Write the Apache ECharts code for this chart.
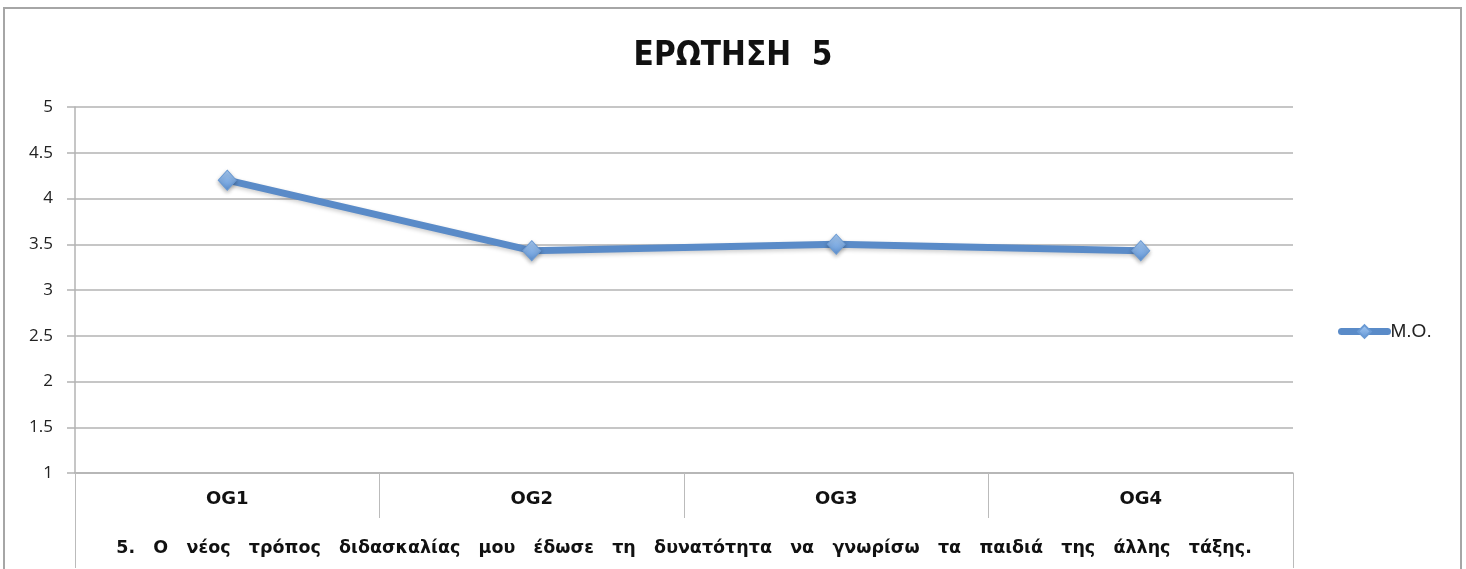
<!DOCTYPE html>
<html>
<head>
<meta charset="utf-8">
<script src="https://cdn.jsdelivr.net/npm/echarts@6/dist/echarts.min.js"></script>
<style>
    html, body { margin: 0; padding: 0; background: #fff; }
    #chart { width: 1466px; height: 569px; }
    #frame {
        position: absolute; left: 3px; top: 7px;
        width: 1455px; height: 600px;
        border: 2px solid #a6a6a6; pointer-events: none;
    }
</style>
</head>
<body>
<div id="chart"></div>
<div id="frame"></div>
<script>
    var titleText = 'ΕΡΩΤΗΣΗ  5';
    var categories = ['OG1', 'OG2', 'OG3', 'OG4'];
    var groupLabel = ['5. Ο νέος τρόπος διδασκαλίας μου έδωσε τη δυνατότητα να γνωρίσω τα παιδιά της άλλης τάξης.'];
    var seriesName = 'M.O.';
    var values = [4.2, 3.43, 3.5, 3.43];
    var yMin = 1, yMax = 5, yStep = 0.5;

    var gridColor = '#b3b3b3';
    var lineColor = '#5a8bc8';

    var myChart = echarts.init(document.getElementById('chart'));
    var option = {
        animation: false,
        title: {
            text: titleText,
            left: 'center',
            top: 35,
            textStyle: {
                fontFamily: '"DejaVu Sans Condensed", "DejaVu Sans", sans-serif',
                fontWeight: 'bold',
                fontSize: 33,
                color: '#111'
            }
        },
        legend: {
            data: [seriesName],
            left: 1333,
            top: 317,
            itemWidth: 46,
            itemHeight: 16,
            itemGap: 2,
            lineStyle: { width: 7, cap: 'round' },
            textStyle: {
                fontFamily: '"Liberation Sans", Arial, sans-serif',
                fontSize: 19,
                color: '#222',
                padding: [0, 0, 0, -2]
            }
        },
        grid: { left: 75, right: 173, top: 107, bottom: 96 },
        xAxis: [{
            type: 'category',
            data: categories,
            boundaryGap: true,
            axisLine: { show: true, lineStyle: { color: gridColor, width: 1.5 } },
            axisTick: { show: true, interval: 0, length: 45, lineStyle: { color: '#bbbbbb', width: 1 } },
            axisLabel: {
                margin: 17,
                fontFamily: '"DejaVu Sans", sans-serif',
                fontWeight: 'bold',
                fontSize: 18,
                color: '#111'
            }
        }, {
            type: 'category',
            position: 'bottom',
            data: groupLabel,
            boundaryGap: true,
            axisLine: { show: false },
            axisTick: { show: true, length: 95, lineStyle: { color: '#bbbbbb', width: 1 } },
            axisLabel: {
                margin: 66,
                fontFamily: '"DejaVu Sans", sans-serif',
                fontWeight: 'bold',
                fontSize: 17.5,
                color: '#111',
                formatter: function (v) { return v.split(' ').join('   '); }
            }
        }],
        yAxis: {
            type: 'value',
            min: yMin,
            max: yMax,
            interval: yStep,
            axisLine: { show: true, lineStyle: { color: gridColor, width: 1.5 } },
            axisTick: { show: true, length: 8, lineStyle: { color: gridColor, width: 1.5 } },
            splitLine: { show: true, lineStyle: { color: gridColor, width: 1.5 } },
            axisLabel: {
                margin: 22,
                fontFamily: '"Open Sans", sans-serif',
                fontSize: 17,
                color: '#222'
            }
        },
        series: [{
            name: seriesName,
            type: 'line',
            data: values,
            xAxisIndex: 0,
            symbol: 'diamond',
            symbolSize: [18, 20],
            showSymbol: true,
            lineStyle: {
                color: lineColor,
                width: 7,
                shadowColor: 'rgba(0,0,0,0.2)',
                shadowBlur: 4,
                shadowOffsetY: 2
            },
            itemStyle: {
                color: new echarts.graphic.LinearGradient(0, 0, 0, 1, [
                    { offset: 0, color: '#a9ccf4' },
                    { offset: 1, color: '#5f93d4' }
                ]),
                borderColor: '#6a9ad4',
                borderWidth: 1,
                shadowColor: 'rgba(0,0,0,0.3)',
                shadowBlur: 4,
                shadowOffsetY: 2
            }
        }]
    };
    myChart.setOption(option);
</script>
</body>
</html>
